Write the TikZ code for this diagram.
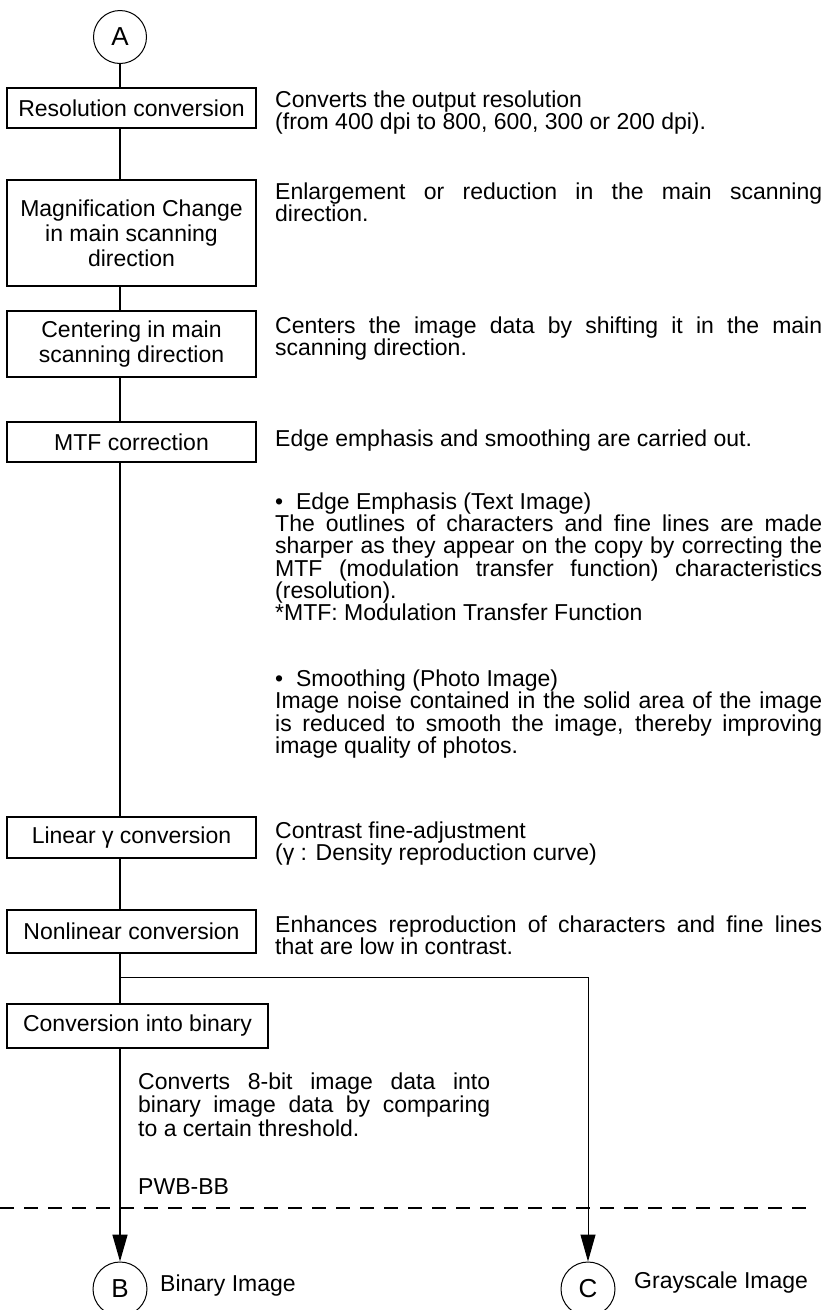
\documentclass[tikz,border=0pt]{standalone}
\usepackage{fontspec}
\setmainfont{Liberation Sans}
\usetikzlibrary{arrows.meta}
\newcommand\mainfs{\fontsize{23}{25}\selectfont}
\newcommand\circfs{\fontsize{26}{28}\selectfont}
\begin{document}
\begin{tikzpicture}[x=1pt,y=-1pt,
  box/.style={draw,line width=1.6pt,inner sep=0pt,align=center,font=\mainfs,minimum width=249pt},
  txt/.style={inner sep=0pt,anchor=base west,font=\mainfs},
  circ/.style={draw,circle,line width=1pt,minimum size=53pt,inner sep=0pt,font=\circfs},
  conn/.style={line width=1.6pt},
  thinconn/.style={line width=1pt},
  tip/.style={-{Triangle[length=27pt,width=15pt]}},
  divider/.style={line width=1.3pt,dash pattern=on 14pt off 10pt}]
\useasboundingbox (0,0) rectangle (833,1310);

% left column
\node[circ] (A) at (120,37) {A};
\node[box,minimum height=40pt] (r1) at (131.5,108) {Resolution conversion};
\node[box,minimum height=106pt] (mag) at (131.5,233) {Magnification Change\\in main scanning\\direction};
\node[box,minimum height=66pt] (cen) at (131.5,344) {Centering in main\\scanning direction};
\node[box,minimum height=40pt] (mtf) at (131.5,442) {MTF correction};
\node[box,minimum height=41pt] (lin) at (131.5,837.5) {Linear γ conversion};
\node[box,minimum height=43pt] (nl) at (131.5,931.5) {Nonlinear conversion};
\node[box,minimum height=44pt,minimum width=261pt] (bin) at (137.5,1026) {Conversion into binary};
\node[circ,minimum size=54pt] (B) at (120,1289) {B};
\node[circ,minimum size=54pt] (C) at (588,1289) {C};

% connectors
\draw[conn] (A.south) -- (A |- r1.north);
\draw[conn] (A |- r1.south) -- (A |- mag.north);
\draw[conn] (A |- mag.south) -- (A |- cen.north);
\draw[conn] (A |- cen.south) -- (A |- mtf.north);
\draw[conn] (A |- mtf.south) -- (A |- lin.north);
\draw[conn] (A |- lin.south) -- (A |- nl.north);
\draw[conn] (A |- nl.south) -- (A |- bin.north);
\draw[conn,tip] (A |- bin.south) -- (B.north);
\coordinate (br) at (120,977);
\coordinate (brc) at (588,977);
\draw[thinconn,tip] (br) -- (brc) -- (C.north);

% divider
\coordinate (dl) at (0,1208);
\coordinate (dr) at (812,1208);
\draw[divider] (dl) -- (dr);

% descriptions
\node[txt] (d1a) at (275,107) {Converts the output resolution};
\node[txt] (d1b) at (275,129) {(from 400 dpi to 800, 600, 300 or 200 dpi).};
\node[txt] (d2a) at (275,199) {\makebox[547pt][s]{Enlargement or reduction in the main scanning}};
\node[txt] (d2b) at (275,221) {direction.};
\node[txt] (d3a) at (275,333) {\makebox[547pt][s]{Centers the image data by shifting it in the main}};
\node[txt] (d3b) at (275,355) {scanning direction.};
\node[txt] (d4a) at (275,446) {Edge emphasis and smoothing are carried out.};
\node[txt] (d5a) at (275,509) {•\ \ Edge Emphasis (Text Image)};
\node[txt] (d5b) at (275,531) {\makebox[547pt][s]{The outlines of characters and fine lines are made}};
\node[txt] (d5c) at (275,553) {\makebox[547pt][s]{sharper as they appear on the copy by correcting the}};
\node[txt] (d5d) at (275,576) {\makebox[547pt][s]{MTF (modulation transfer function) characteristics}};
\node[txt] (d5e) at (275,598) {(resolution).};
\node[txt] (d5f) at (275,620) {*MTF: Modulation Transfer Function};
\node[txt] (d6a) at (275,686) {•\ \ Smoothing (Photo Image)};
\node[txt] (d6b) at (275,708) {\makebox[547pt][s]{Image noise contained in the solid area of the image}};
\node[txt] (d6c) at (275,731) {\makebox[547pt][s]{is reduced to smooth the image, thereby improving}};
\node[txt] (d6d) at (275,753) {image quality of photos.};
\node[txt] (d7a) at (275,838) {Contrast fine-adjustment};
\node[txt] (d7b) at (275,860) {(γ : Density reproduction curve)};
\node[txt] (d8a) at (275,932) {\makebox[547pt][s]{Enhances reproduction of characters and fine lines}};
\node[txt] (d8b) at (275,954) {that are low in contrast.};
\node[txt] (d9a) at (138,1089) {\makebox[352pt][s]{Converts 8-bit image data into}};
\node[txt] (d9b) at (138,1112) {\makebox[352pt][s]{binary image data by comparing}};
\node[txt] (d9c) at (138,1136) {to a certain threshold.};
\node[txt] (pwb) at (138,1194) {PWB-BB};
\node[txt] (lb) at (160,1291) {Binary Image};
\node[txt] (lc) at (634,1288) {Grayscale Image};
\end{tikzpicture}
\end{document}
